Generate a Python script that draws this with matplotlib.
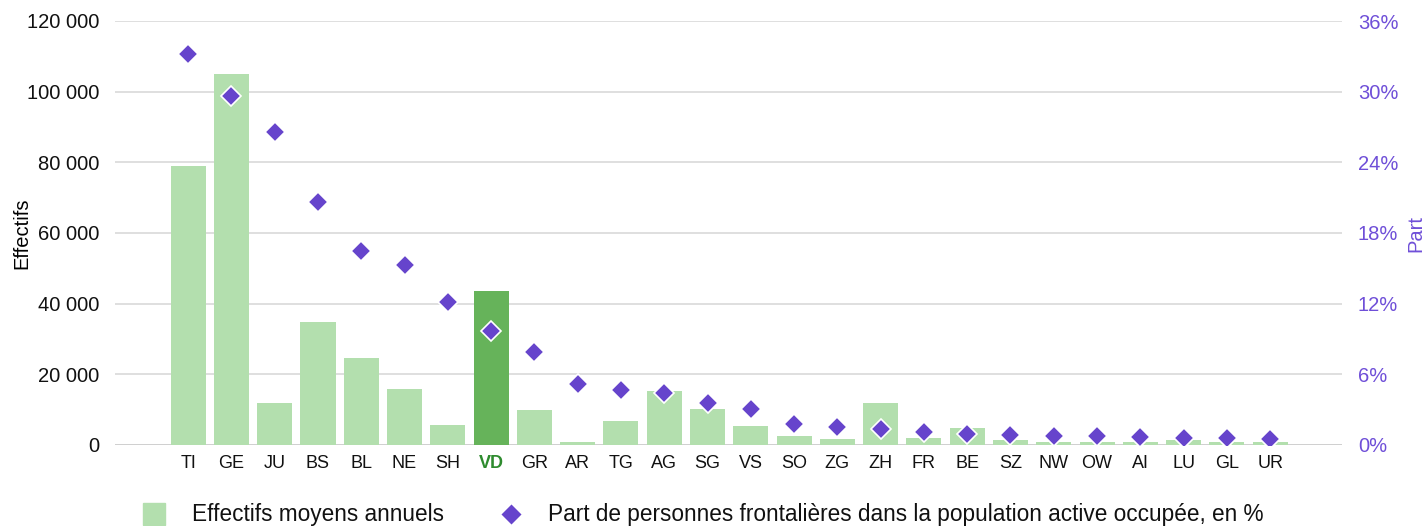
import matplotlib
matplotlib.use("Agg")
import matplotlib.pyplot as plt
from matplotlib.lines import Line2D

plt.rcParams['font.family'] = ['Liberation Sans', 'DejaVu Sans']

cantons = ["TI", "GE", "JU", "BS", "BL", "NE", "SH", "VD", "GR", "AR", "TG", "AG", "SG",
           "VS", "SO", "ZG", "ZH", "FR", "BE", "SZ", "NW", "OW", "AI", "LU", "GL", "UR"]
effectifs = [79000, 105000, 11900, 34800, 24600, 15900, 5700, 43600, 9900, 850, 6800, 15300,
             10200, 5400, 2500, 1700, 11900, 2000, 4800, 1400, 900, 900, 900, 1400, 900, 800]
part = [33.2, 29.6, 26.6, 20.6, 16.5, 15.3, 12.1, 9.7, 7.9, 5.2, 4.7, 4.4, 3.6,
        3.06, 1.78, 1.55, 1.33, 1.13, 0.93, 0.85, 0.76, 0.76, 0.65, 0.57, 0.57, 0.54]
highlight = "VD"
legend_labels = ["Effectifs moyens annuels",
                 "Part de personnes frontalières dans la population active occupée, en %"]

light_green = "#b3dfae"
dark_green = "#66b35a"
purple = "#6644cc"
purple_text = "#6f4fd8"

W, H = 1428, 526
fig = plt.figure(figsize=(W / 100, H / 100), dpi=100)
ax = fig.add_axes([115 / W, (H - 445) / H, (1342 - 115) / W, (445 - 21) / H])

n = len(cantons)
x = list(range(n))
colors = [dark_green if c == highlight else light_green for c in cantons]
ax.bar(x, effectifs, width=0.81, color=colors, zorder=2)

ax.set_ylim(0, 120000)
ax.set_yticks(range(0, 120001, 20000))
ax.set_yticklabels([f"{v:,}".replace(",", " ") for v in range(0, 120001, 20000)])
ax.set_xlim(-1.69, n - 1 + 1.66)
ax.set_xticks(x)
ax.set_xticklabels(cantons)
ax.grid(axis="y", color="#dcdcdc", linewidth=1.3, zorder=0)
ax.set_axisbelow(True)
for s in ax.spines.values():
    s.set_visible(False)
ax.axhline(0, color="#cfcfcf", linewidth=2.0, zorder=1)
ax.tick_params(axis="y", length=0, labelsize=14.5, colors="#111111", pad=11.5)
ax.tick_params(axis="x", length=0, labelsize=13, colors="#111111", pad=7)
for lbl in ax.get_xticklabels():
    if lbl.get_text() == highlight:
        lbl.set_color("#2e8b2e")
        lbl.set_fontweight("bold")
ax.set_ylabel("Effectifs", fontsize=14.5)
ax.yaxis.label.set_va("center")
ax.yaxis.label.set_ha("center")
ax.yaxis.set_label_coords((22 - 115) / 1227, 0.5)

ax2 = ax.twinx()
ax2.set_ylim(0, 36)
ax2.set_yticks(range(0, 37, 6))
ax2.set_yticklabels([f"{v}%" for v in range(0, 37, 6)])
for s in ax2.spines.values():
    s.set_visible(False)
ax2.tick_params(axis="y", length=0, labelsize=14.5, colors=purple_text, pad=11.5)
ax2.set_ylabel("Part", fontsize=14.5, color=purple_text)
ax2.yaxis.label.set_va("center")
ax2.yaxis.label.set_ha("center")
ax2.yaxis.set_label_coords((1416 - 115) / 1227, 0.5)
ax2.plot(x, part, linestyle="none", marker="D", markersize=10.5, color=purple,
         markeredgecolor="white", markeredgewidth=1.2, zorder=3)

# legend (drawn at fixed figure positions)
ly = (H - 514) / H
fig.add_artist(Line2D([154 / W], [ly], transform=fig.transFigure, linestyle="none",
                      marker="s", markersize=16.5, color=light_green))
fig.text(192 / W, ly, legend_labels[0], fontsize=16.3, va="center", ha="left", color="#111111")
fig.add_artist(Line2D([511 / W], [ly], transform=fig.transFigure, linestyle="none",
                      marker="D", markersize=11, color=purple, markeredgecolor="white",
                      markeredgewidth=1.0))
fig.text(548 / W, ly, legend_labels[1], fontsize=16.3, va="center", ha="left", color="#111111")

fig.savefig("out.png", dpi=100)
